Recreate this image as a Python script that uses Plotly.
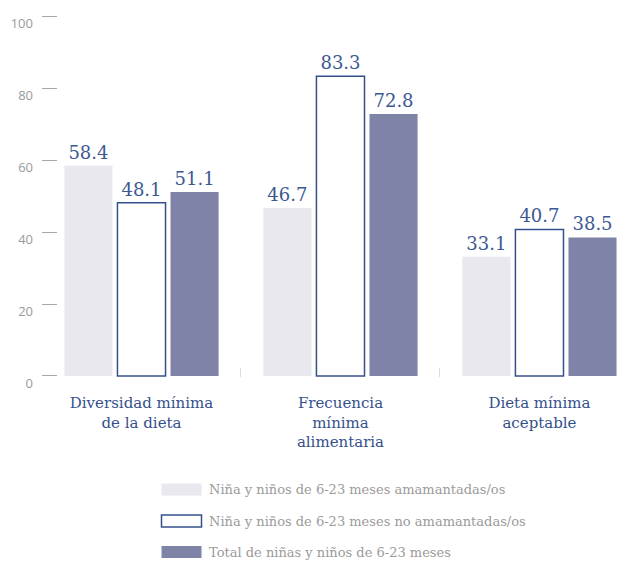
import plotly.graph_objects as go

# Indicator categories (x axis)
categories = ["Diversidad mínima<br>de la dieta", "Frecuencia<br>mínima<br>alimentaria", "Dieta mínima<br>aceptable"]

# Series names and values (%)
series_names = [
    "Niña y niños de 6-23 meses amamantadas/os",
    "Niña y niños de 6-23 meses no amamantadas/os",
    "Total de niñas y niños de 6-23 meses",
]
amamantadas = [58.4, 46.7, 33.1]
no_amamantadas = [48.1, 83.3, 40.7]
total = [51.1, 72.8, 38.5]

y_ticks = [0, 20, 40, 60, 80, 100]

# Styling
NAVY = "#34508c"
LABEL_NAVY = "#3c5892"
GREY_TXT = "#9a9a9a"
LIGHT = "#e8e8ee"
DARK = "#7f83a7"
SERIF = "DejaVu Serif"

W, H = 627, 561
ML, MR, MT, MB = 42, 0, 15, 184
PW, PH = W - ML - MR, H - MT - MB

fills = [LIGHT, "white", DARK]
line_w = [0, 1.5, 0]
values = [amamantadas, no_amamantadas, total]

fig = go.Figure()
for name, vals, fc, lw in zip(series_names, values, fills, line_w):
    fig.add_trace(go.Bar(
        x=categories, y=vals, name=name,
        marker=dict(color=fc, line=dict(color=NAVY, width=lw)),
        text=vals, texttemplate="%{y:.1f}", textposition="outside",
        textfont=dict(family=SERIF, size=18, color=LABEL_NAVY),
        constraintext="none", cliponaxis=False, showlegend=False,
    ))


def px_x(px):
    return (px - ML) / PW


def px_y(py):
    return (MT + PH - py) / PH


# Legend drawn as swatches + labels below the plot
legend_rows = [489.5, 521, 552]
shapes = []
annotations = []
for name, fc, lw, cy in zip(series_names, fills, line_w, legend_rows):
    shapes.append(dict(
        type="rect", xref="paper", yref="paper",
        x0=px_x(161.5), x1=px_x(201.5), y0=px_y(cy - 6), y1=px_y(cy + 6),
        fillcolor=fc, line=dict(color=NAVY, width=lw if lw else 0),
    ))
    annotations.append(dict(
        xref="paper", yref="paper", x=px_x(207), y=px_y(cy),
        xanchor="left", yanchor="middle", text=name, showarrow=False,
        font=dict(family=SERIF, size=13, color=GREY_TXT),
    ))

fig.update_layout(
    width=W, height=H,
    margin=dict(l=ML, r=MR, t=MT, b=MB),
    paper_bgcolor="white", plot_bgcolor="white",
    barmode="group", bargap=0.2, bargroupgap=0.094,
    shapes=shapes, annotations=annotations,
    showlegend=False,
)
fig.update_xaxes(
    type="category", range=[-0.5, 2.44],
    showgrid=False, zeroline=False, showline=False,
    tickson="boundaries", ticks="inside", ticklen=9,
    tickcolor="#dcdcdc", tickwidth=1,
    tickfont=dict(family=SERIF, size=15, color=NAVY),
    ticklabelstandoff=15,
)
fig.update_yaxes(
    range=[-0.28, 100.28], tickvals=y_ticks,
    showgrid=False, zeroline=False, showline=False,
    ticks="inside", ticklen=15, tickcolor="#a8a8a8", tickwidth=1,
    tickfont=dict(family="Open Sans", size=13, color=GREY_TXT),
    ticklabelshift=7, ticklabelstandoff=8,
)

fig.write_html("out.html")
